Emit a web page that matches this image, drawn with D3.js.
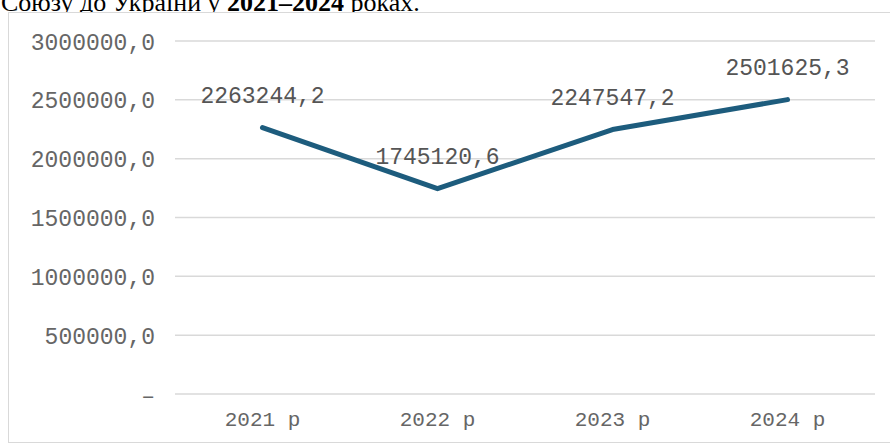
<!DOCTYPE html>
<html><head><meta charset="utf-8">
<script src="https://cdn.jsdelivr.net/npm/d3@7"></script>
<style>
html,body{margin:0;padding:0;background:#fff;}
svg{display:block;}
</style></head>
<body>
<svg id="chart" width="890" height="448"></svg>
<script>
const categories = ["2021 р", "2022 р", "2023 р", "2024 р"];
const values = [2263244.2, 1745120.6, 2247547.2, 2501625.3];
const yTicks = [0, 500000, 1000000, 1500000, 2000000, 2500000, 3000000];
const titleParts = [["Союзу до України у ", false], ["2021–2024", true], [" роках.", false]];

const svg = d3.select("#chart");
const margin = {left: 175, right: 15, top: 41, bottom: 54};
const W = 890, H = 448;

// title (cut off at top, as in the source)
const title = svg.append("text").attr("x", 1).attr("y", 11)
  .attr("font-family", "'Liberation Serif', 'Times New Roman', serif")
  .attr("font-size", 26).attr("fill", "#000");
titleParts.forEach(([t, b]) => title.append("tspan").text(t).attr("font-weight", b ? "bold" : "normal"));

// frame
svg.append("rect").attr("x", 8.5).attr("y", 12.5).attr("width", 890).attr("height", 430)
  .attr("fill", "#fff").attr("stroke", "#d9d9d9").attr("stroke-width", 1);

const x = d3.scaleBand().domain(categories).range([margin.left, W - margin.right]);
const y = d3.scaleLinear().domain([0, 3000000]).range([H - margin.bottom, margin.top]);

const fmt = v => v === 0 ? "–" : d3.format(".1f")(v).replace(".", ",");
const mono = "'Liberation Mono', 'Courier New', monospace";

// gridlines
svg.append("g").selectAll("line").data(yTicks).join("line")
  .attr("x1", margin.left).attr("x2", W - margin.right)
  .attr("y1", d => y(d)).attr("y2", d => y(d))
  .attr("stroke", "#d9d9d9").attr("stroke-width", 1.5);

// y axis
const yAxis = svg.append("g").attr("transform", `translate(${margin.left - 20},0)`)
  .call(d3.axisLeft(y).tickValues(yTicks).tickSize(0).tickPadding(0).tickFormat(fmt));
yAxis.select(".domain").remove();
yAxis.selectAll("text").attr("font-family", mono).attr("font-size", 23).attr("fill", "#666").attr("dy", "0.35em");

// x axis
const xAxis = svg.append("g").attr("transform", `translate(0,${H - margin.bottom})`)
  .call(d3.axisBottom(x).tickSize(0).tickPadding(17));
xAxis.select(".domain").remove();
xAxis.selectAll("text").attr("font-family", mono).attr("font-size", 21).attr("fill", "#666");

// line
const line = d3.line().x((d, i) => x(categories[i]) + x.bandwidth() / 2).y(d => y(d));
svg.append("path").datum(values).attr("d", line)
  .attr("fill", "none").attr("stroke", "#1d5c7d").attr("stroke-width", 5)
  .attr("stroke-linejoin", "round").attr("stroke-linecap", "round");

// data labels
svg.append("g").selectAll("text").data(values).join("text")
  .attr("x", (d, i) => x(categories[i]) + x.bandwidth() / 2)
  .attr("y", d => y(d) - 25)
  .attr("text-anchor", "middle")
  .attr("font-family", mono).attr("font-size", 23).attr("fill", "#555")
  .text(d => fmt(d));
</script>
</body></html>
